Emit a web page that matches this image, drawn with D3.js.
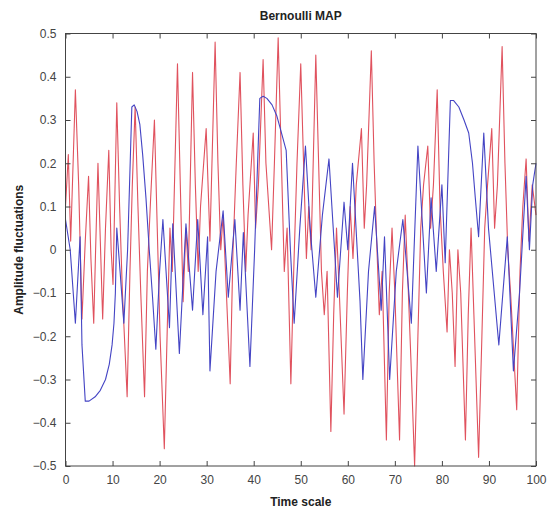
<!DOCTYPE html>
<html>
<head>
<meta charset="utf-8">
<script src="https://cdn.jsdelivr.net/npm/d3@7"></script>
<style>
  body { margin: 0; background: #fff; }
  svg text { font-family: "Liberation Sans", Arial, sans-serif; }
</style>
</head>
<body>
<script>
const width = 552;
const height = 510;
const margin = { top: 33.5, right: 16, bottom: 44, left: 65.5 };

// time ticks and amplitude ticks
const xTicks = [0, 10, 20, 30, 40, 50, 60, 70, 80, 90, 100];
const yTicks = [-0.5, -0.4, -0.3, -0.2, -0.1, 0, 0.1, 0.2, 0.3, 0.4, 0.5];

// red series (time, amplitude)
const redT = [0, 0.6, 1.1, 2.1, 2.8, 3.5, 4.2, 4.9, 5.4, 6.0, 6.4, 6.9, 7.4, 7.9, 8.5, 9.2, 9.7, 10.1, 10.9, 11.5,
  12.1, 13.1, 13.7, 14.2, 14.8, 15.4, 16.0, 16.8, 17.4, 18.1, 18.9, 19.5, 20.1, 21.0, 21.7, 22.2, 22.7, 23.8, 24.4, 25.0,
  25.6, 26.1, 27.0, 27.6, 28.2, 28.7, 29.9, 30.7, 31.8, 32.4, 33.0, 33.5, 34.2, 35.0, 35.6, 36.3, 37.1, 37.7, 38.3, 38.8,
  39.9, 40.4, 41.0, 42.0, 42.6, 43.8, 44.4, 45.2, 45.9, 46.5, 47.1, 47.9, 48.5, 49.2, 50.0, 50.6, 51.2, 51.7, 52.2, 53.2,
  53.8, 54.4, 55.0, 55.6, 56.4, 57.0, 57.6, 58.2, 59.2, 59.9, 60.5, 61.1, 61.8, 62.9, 63.5, 64.0, 65.0, 65.6, 66.2, 66.7,
  67.3, 68.2, 68.8, 69.4, 70.0, 71.0, 71.6, 72.2, 72.7, 73.4, 74.2, 74.9, 75.5, 76.1, 77.0, 77.6, 78.2, 79.0, 79.6, 80.3,
  81.1, 81.6, 82.2, 82.8, 83.4, 84.0, 85.0, 85.6, 86.2, 86.8, 87.8, 88.5, 89.1, 89.7, 90.6, 91.2, 91.8, 92.8, 93.4, 94.0,
  94.6, 95.9, 96.6, 97.2, 97.9, 98.5, 99.2, 100];
const redV = [0.10, 0.22, 0.02, 0.37, 0.15, -0.16, 0.02, 0.17, -0.02, -0.17, 0.0, 0.20, 0.02, -0.16, 0.05, 0.23, 0.0, -0.08, 0.34, 0.10,
  -0.10, -0.34, -0.05, 0.15, 0.33, 0.10, -0.10, -0.34, -0.05, 0.12, 0.30, 0.05, -0.20, -0.46, -0.15, 0.05, -0.05, 0.43, 0.15, -0.12,
  0.05, -0.05, 0.41, 0.15, -0.05, 0.10, 0.28, 0.02, 0.48, 0.20, 0.0, 0.08, -0.10, -0.31, 0.0, 0.20, 0.41, 0.15, -0.05, 0.08,
  0.27, 0.05, 0.15, 0.44, 0.20, 0.0, 0.20, 0.49, 0.20, -0.05, 0.05, -0.31, -0.05, 0.20, 0.43, 0.20, -0.02, 0.10, 0.0, 0.45,
  0.20, -0.05, -0.15, -0.05, -0.42, -0.15, 0.05, -0.10, -0.38, -0.10, 0.10, -0.02, 0.15, 0.28, 0.05, 0.15, 0.46, 0.20, 0.0, -0.15,
  -0.05, -0.44, -0.10, 0.05, -0.10, -0.44, -0.10, 0.08, -0.05, -0.25, -0.50, -0.20, 0.05, 0.15, 0.24, 0.05, 0.15, 0.37, 0.10, -0.05,
  -0.19, 0.0, -0.10, -0.27, 0.0, -0.10, -0.44, -0.15, 0.05, -0.15, -0.48, -0.20, 0.05, 0.15, 0.28, 0.05, 0.15, 0.47, 0.20, 0.0,
  -0.10, -0.37, -0.05, 0.10, 0.21, 0.02, 0.15, 0.08];

// blue series
const blueT = [0, 1.0, 2.1, 3.1, 3.5, 4.2, 5.0, 6.3, 7.4, 8.5, 9.3, 9.9, 10.3, 10.6, 10.9, 11.6, 12.4, 13.2, 14.1, 14.6,
  15.2, 15.8, 16.4, 17.1, 17.8, 18.5, 19.2, 20.0, 20.7, 22.1, 22.8, 24.2, 25.6, 27.0, 28.1, 29.2, 30.2, 30.7, 32.0, 33.5,
  34.6, 36.0, 37.1, 37.8, 39.2, 40.2, 41.3, 42.0, 42.8, 43.9, 44.9, 45.9, 46.9, 47.8, 48.6, 49.8, 51.0, 52.0, 53.2, 54.6,
  56.0, 57.8, 59.2, 60.0, 61.0, 62.6, 63.2, 64.4, 65.7, 67.1, 67.8, 68.9, 70.3, 71.7, 73.5, 74.9, 76.7, 77.7, 78.8, 80.0,
  80.7, 81.8, 82.5, 83.6, 84.7, 85.7, 86.5, 87.1, 87.8, 88.9, 89.9, 92.1, 93.9, 95.2, 96.5, 97.9, 98.6, 99.3, 100];
const blueV = [0.07, 0.0, -0.17, 0.03, -0.22, -0.35, -0.35, -0.34, -0.325, -0.30, -0.265, -0.22, -0.17, -0.10, 0.05, -0.05, -0.17, 0.0, 0.33, 0.335,
  0.32, 0.29, 0.22, 0.12, 0.0, -0.11, -0.23, -0.05, 0.07, -0.18, 0.06, -0.24, 0.06, -0.14, 0.07, -0.15, 0.03, -0.28, -0.05, 0.09,
  -0.11, 0.07, -0.14, 0.04, -0.27, 0.0, 0.35, 0.355, 0.35, 0.335, 0.31, 0.27, 0.23, 0.0, -0.17, 0.05, 0.24, 0.05, -0.11, 0.08,
  0.21, -0.11, 0.11, 0.0, 0.20, -0.12, -0.30, -0.05, 0.10, -0.14, 0.03, -0.30, -0.05, 0.07, -0.17, 0.24, -0.10, 0.12, -0.05, 0.15,
  -0.03, 0.345, 0.345, 0.33, 0.30, 0.27, 0.20, 0.12, 0.03, 0.27, 0.05, -0.22, 0.03, -0.28, -0.10, 0.17, 0.0, 0.15, 0.20];

const red = redT.map((t, i) => ({ t, v: redV[i] }));
const blue = blueT.map((t, i) => ({ t, v: blueV[i] }));

const svg = d3.select('body').append('svg')
  .attr('width', width)
  .attr('height', height);

const x = d3.scaleLinear()
  .domain([0, 100])
  .range([margin.left, width - margin.right]);

const y = d3.scaleLinear()
  .domain([-0.5, 0.5])
  .range([height - margin.bottom, margin.top]);

const line = d3.line()
  .x(d => x(d.t))
  .y(d => y(d.v));

svg.append('path')
  .datum(red)
  .attr('d', line)
  .attr('fill', 'none')
  .attr('stroke', '#e0525e')
  .attr('stroke-width', 1.1)
  .attr('stroke-linejoin', 'round');

svg.append('path')
  .datum(blue)
  .attr('d', line)
  .attr('fill', 'none')
  .attr('stroke', '#4444c4')
  .attr('stroke-width', 1.1)
  .attr('stroke-linejoin', 'round');

// AXES (matlab style, ticks pointing in on all four sides)
const fmtY = d => d === 0 ? '0' : d3.format('.1f')(d);

const xAxis = d3.axisBottom(x).tickValues(xTicks).tickSizeInner(-5).tickSizeOuter(0).tickPadding(9);
const yAxis = d3.axisLeft(y).tickValues(yTicks).tickSizeInner(-5).tickSizeOuter(0).tickPadding(9).tickFormat(fmtY);

const styleAxis = g => {
  g.select('.domain').remove();
  g.selectAll('line').attr('stroke', '#444');
  g.selectAll('text').attr('fill', '#444').style('font-size', '12px');
};

svg.append('g')
  .attr('transform', `translate(0, ${y(-0.5)})`)
  .call(xAxis)
  .call(styleAxis);

svg.append('g')
  .attr('transform', `translate(0, ${y(0.5)})`)
  .call(d3.axisTop(x).tickValues(xTicks).tickSizeInner(-5).tickSizeOuter(0).tickFormat(''))
  .call(styleAxis);

svg.append('g')
  .attr('transform', `translate(${x(0)}, 0)`)
  .call(yAxis)
  .call(styleAxis);

svg.append('g')
  .attr('transform', `translate(${x(100)}, 0)`)
  .call(d3.axisRight(y).tickValues(yTicks).tickSizeInner(-5).tickSizeOuter(0).tickFormat(''))
  .call(styleAxis);

// box
svg.append('rect')
  .attr('x', x(0))
  .attr('y', y(0.5))
  .attr('width', x(100) - x(0))
  .attr('height', y(-0.5) - y(0.5))
  .attr('fill', 'none')
  .attr('stroke', '#444')
  .attr('stroke-width', 1);

// labels
svg.append('text')
  .attr('x', (x(0) + x(100)) / 2)
  .attr('y', 20)
  .attr('text-anchor', 'middle')
  .style('font-size', '12px')
  .style('font-weight', 'bold')
  .attr('fill', '#222')
  .text('Bernoulli MAP');

svg.append('text')
  .attr('x', (x(0) + x(100)) / 2)
  .attr('y', 506)
  .attr('text-anchor', 'middle')
  .style('font-size', '12px')
  .style('font-weight', 'bold')
  .attr('fill', '#222')
  .text('Time scale');

svg.append('text')
  .attr('transform', `translate(23, ${(y(0.5) + y(-0.5)) / 2}) rotate(-90)`)
  .attr('text-anchor', 'middle')
  .style('font-size', '12px')
  .style('font-weight', 'bold')
  .attr('fill', '#222')
  .text('Amplitude fluctuations');
</script>
</body>
</html>
